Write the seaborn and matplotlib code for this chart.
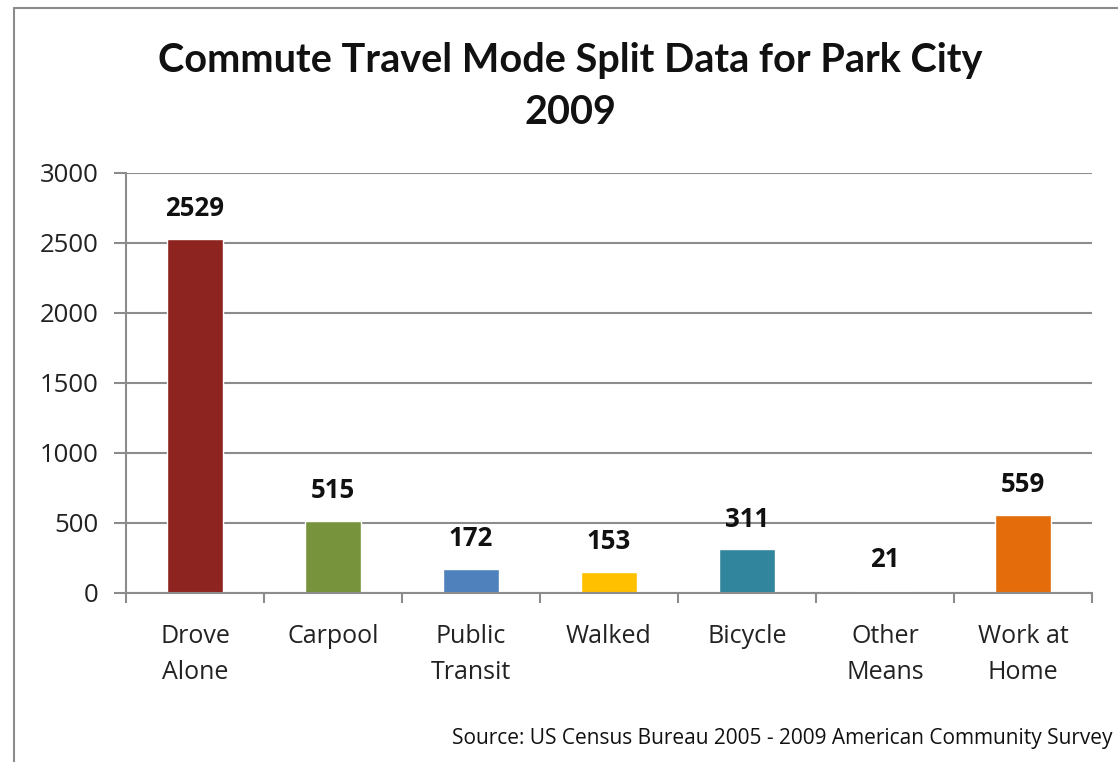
import numpy as np
import pandas as pd
import seaborn as sns
import matplotlib.pyplot as plt
from matplotlib.lines import Line2D

modes = ['Drove\nAlone', 'Carpool', 'Public\nTransit', 'Walked', 'Bicycle', 'Other\nMeans', 'Work at\nHome']
commuters = [2529, 515, 172, 153, 311, 21, 559]
bar_colors = ['#8E2420', '#77933C', '#4F81BD', '#FFC000', '#31859C', '#FFFFFF', '#E46C0A']
y_ticks = [0, 500, 1000, 1500, 2000, 2500, 3000]

title = 'Commute Travel Mode Split Data for Park City\n2009'
source = 'Source: US Census Bureau 2005 - 2009 American Community Survey'

sns.set_theme(style='white', rc={'text.color': '#111111', 'xtick.color': '#222222',
                                 'ytick.color': '#222222'})
plt.rcParams['font.family'] = ['Open Sans', 'DejaVu Sans']

df = pd.DataFrame({'mode': modes, 'count': commuters})

fig = plt.figure(figsize=(11.18, 7.62), dpi=100)
ax = fig.add_axes([0.1127, 0.2218, 0.864, 0.5512])

sns.barplot(data=df, x='mode', y='count', hue='mode', palette=bar_colors,
            width=0.4, saturation=1, legend=False, ax=ax)

ax.set_ylim(0, 3000)
ax.set_xlim(-0.5, len(modes) - 0.5)
ax.set_yticks(y_ticks)
ax.yaxis.grid(True, color='#8c8c8c', linewidth=1.5)
ax.set_axisbelow(True)

for side in ['top', 'right']:
    ax.spines[side].set_visible(False)
for side in ['left', 'bottom']:
    ax.spines[side].set_color('#8c8c8c')
    ax.spines[side].set_linewidth(1.5)

ax.tick_params(axis='y', length=9, width=1.5, color='#8c8c8c', labelsize=18.5, pad=11, left=True)
ax.tick_params(axis='x', which='major', length=0, labelsize=18, pad=22)
ax.set_xticks(np.arange(-0.5, len(modes)), minor=True)
ax.tick_params(axis='x', which='minor', length=7, width=1.5, color='#8c8c8c', bottom=True)
for lbl in ax.get_xticklabels():
    lbl.set_linespacing(1.6)
ax.set_xlabel('')
ax.set_ylabel('')

for cont in ax.containers:
    ax.bar_label(cont, fontsize=18.5, fontweight='bold', padding=12, color='#111111')

fig.text(0.51, 0.886, title, ha='center', va='center', fontsize=28.5,
         fontweight='bold', linespacing=1.5, family=['Lato', 'DejaVu Sans'])
fig.text(0.995, 0.031, source, ha='right', va='center', fontsize=15)

# chart frame
fig.add_artist(Line2D([0.0125, 0.0125], [0, 0.99], transform=fig.transFigure, color='#8c8c8c', lw=1.5))
fig.add_artist(Line2D([0.0125, 1.0], [0.99, 0.99], transform=fig.transFigure, color='#8c8c8c', lw=1.5))

plt.savefig('out.png', dpi=100)
